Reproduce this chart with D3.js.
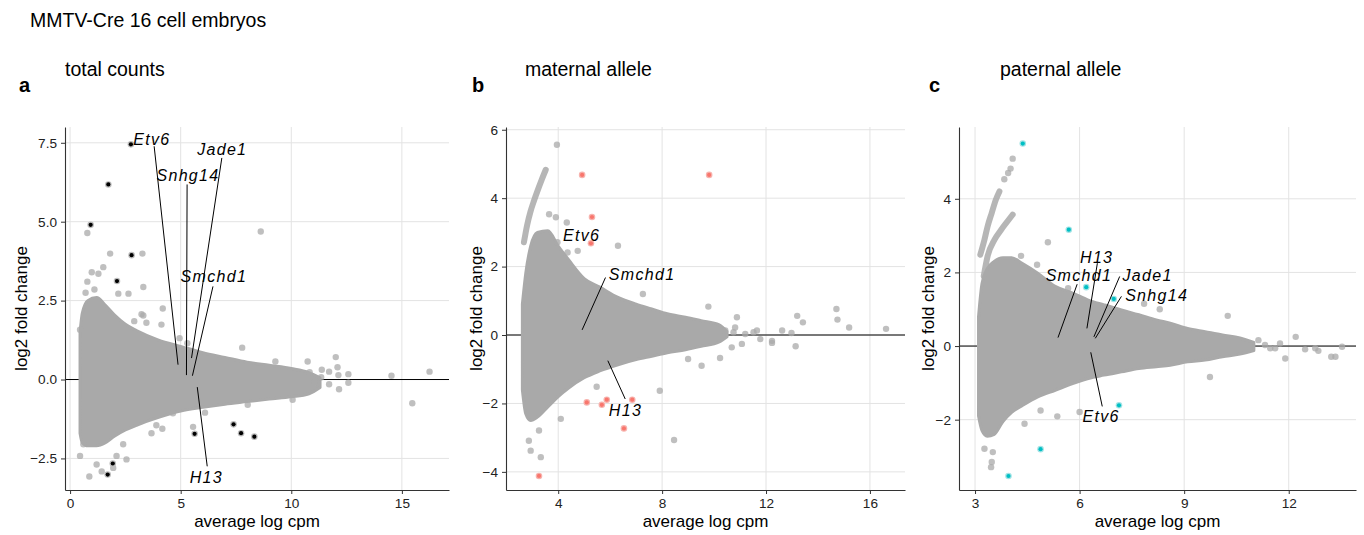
<!DOCTYPE html>
<html><head><meta charset="utf-8">
<script src="https://cdn.jsdelivr.net/npm/d3@7"></script>
<style>
body{margin:0;background:#fff;}
text{font-family:"Liberation Sans",Arial,Helvetica,sans-serif;}
</style></head><body>
<svg id="chart" width="1364" height="535"></svg>
<script>
// ---------------- DATA ----------------
const mainTitle = "MMTV-Cre 16 cell embryos";
const panelTitles = ["total counts", "maternal allele", "paternal allele"];
const panelLetters = ["a", "b", "c"];
const xAxisTitle = "average log cpm";
const yAxisTitle = "log2 fold change";

// tick values
const aXTicks = [0, 5, 10, 15];
const aYTicks = [-2.5, 0, 2.5, 5, 7.5];
const bXTicks = [4, 8, 12, 16];
const bYTicks = [-4, -2, 0, 2, 4, 6];
const cXTicks = [3, 6, 9, 12];
const cYTicks = [-2, 0, 2, 4];

// dense cloud outline: x, upper y, lower y
const aCloudX  = [0.45, 0.55, 0.8, 1.2, 1.6, 2.0, 2.5, 3.0, 4.0, 5.0, 6.0, 7.0, 8.0, 9.0, 10.0, 10.8, 11.3];
const aCloudUp = [1.5, 2.1, 2.5, 2.6, 2.35, 2.05, 1.75, 1.55, 1.25, 1.05, 0.85, 0.7, 0.55, 0.45, 0.35, 0.22, 0.05];
const aCloudLo = [-1.7, -2.0, -2.1, -2.1, -2.0, -1.8, -1.6, -1.45, -1.2, -1.0, -0.88, -0.78, -0.7, -0.62, -0.55, -0.45, -0.25];

const bCloudX  = [2.62, 2.75, 2.94, 3.2, 3.6, 4.0, 4.4, 5.0, 5.6, 6.3, 7.0, 7.6, 8.2, 8.9, 9.5, 10.2, 10.5];
const bCloudUp = [0.9, 1.8, 2.6, 3.0, 3.05, 2.6, 2.2, 1.65, 1.4, 1.1, 0.9, 0.76, 0.62, 0.52, 0.42, 0.3, 0.1];
const bCloudLo = [-1.6, -2.3, -2.5, -2.4, -2.1, -1.8, -1.55, -1.25, -1.05, -0.87, -0.72, -0.62, -0.52, -0.43, -0.33, -0.2, -0.05];

const cCloudX  = [3.1, 3.2, 3.35, 3.55, 3.8, 4.05, 4.35, 4.8, 5.3, 5.8, 6.25, 6.7, 7.2, 7.7, 8.2, 8.6, 9.1, 9.6, 10.1, 10.6, 11.0];
const cCloudUp = [0.8, 1.7, 2.1, 2.3, 2.4, 2.4, 2.25, 1.98, 1.62, 1.44, 1.25, 1.12, 0.98, 0.85, 0.71, 0.62, 0.48, 0.39, 0.3, 0.22, 0.1];
const cCloudLo = [-1.9, -2.3, -2.45, -2.4, -2.05, -1.8, -1.62, -1.38, -1.2, -1.02, -0.88, -0.79, -0.7, -0.61, -0.56, -0.52, -0.43, -0.38, -0.29, -0.22, -0.12];

// streaks of genes (allele-specific panels)
const bStreakX = [2.68, 2.8, 2.93, 3.07, 3.22, 3.37, 3.52];
const bStreakY = [2.71, 3.2, 3.6, 3.93, 4.25, 4.55, 4.83];
const cStreak1X = [3.15, 3.27, 3.36, 3.48, 3.6, 3.7];
const cStreak1Y = [2.48, 2.89, 3.25, 3.62, 3.98, 4.2];
const cStreak2X = [3.25, 3.36, 3.56, 3.75, 3.9, 4.08];
const cStreak2Y = [1.9, 2.44, 2.89, 3.16, 3.35, 3.57];

// scattered genes outside the dense cloud
const aPtsX = [8.62, 0.78, 1.81, 3.27, 1.5, 0.98, 1.28, 3.31, 0.78, 2.18, 2.64, 3.23, 4.19, 4.13, 3.45, 4.95, 7.78, 9.28, 10.74, 11.38, 11.71, 12.01, 12.09, 12.13, 12.58, 12.58, 11.71, 12.16, 14.53, 16.25, 15.47, 10.06, 8.03, 5.56, 4.65, 4.17, 3.68, 2.40, 2.55, 2.10, 0.60, 0.45, 0.87, 1.20, 1.43, 1.95, 0.45, 3.31, 10.83, 11.05, 11.35, 0.7, 1.1, 2.9, 3.9, 5.3, 6.1];
const aPtsY = [4.69, 4.64, 3.99, 3.99, 3.56, 3.40, 3.35, 2.93, 3.10, 2.72, 2.72, 2.07, 2.25, 1.74, 1.80, 1.31, 1.01, 0.57, 0.57, 0.31, 0.25, 0.71, 0.39, 0.14, 0.17, -0.10, -0.15, -0.31, 0.12, 0.25, -0.75, -0.64, -0.80, -1.50, -1.07, -1.56, -1.70, -2.05, -2.53, -2.42, -2.05, -2.42, -3.07, -2.69, -2.91, -2.80, 1.58, 2.03, 0.23, -0.10, 0.07, 2.75, 2.85, 1.85, -1.45, 1.15, -1.05];

const bPtsX = [3.95, 6.30, 9.78, 10.88, 13.2, 13.42, 14.71, 14.75, 15.2, 16.62, 12.62, 12.98, 13.14, 12.23, 10.23, 9.52, 9.0, 7.91, 8.46, 3.33, 2.94, 2.87, 3.26, 4.10, 5.48, 4.75, 4.36, 3.97, 3.65, 3.91, 4.33, 7.26, 10.43, 10.75, 11.2, 11.52, 11.78, 12.23, 10.68, 11.07, 10.81, 11.65];
const bPtsY = [5.56, 2.61, 0.83, 0.52, 0.56, 0.37, 0.76, 0.45, 0.22, 0.18, 0.13, 0.06, -0.33, -0.23, -0.67, -0.9, -0.70, -1.63, -3.07, -3.57, -3.38, -3.09, -2.79, -2.45, -1.51, 2.46, 2.41, 2.71, 3.53, 3.44, 3.29, 1.20, 0.13, 0.08, 0.03, 0.08, -0.12, -0.17, -0.36, -0.26, 0.22, 0.13];

const cPtsX = [10.25, 12.2, 13.53, 13.22, 12.85, 11.9, 11.47, 9.74, 5.09, 4.32, 4.78, 7.85, 8.3, 5.36, 6.0, 4.88, 4.42, 3.46, 3.48, 3.27, 3.51, 5.67, 3.84, 3.95, 4.02, 4.08, 11.13, 11.32, 11.61, 11.75, 12.47, 12.76, 13.34];
const cPtsY = [0.82, 0.25, -0.02, -0.29, -0.13, -0.34, -0.06, -0.84, 2.82, 2.45, 2.21, 1.15, 1.0, -1.91, -1.79, -1.75, -2.11, -3.29, -3.15, -2.79, -2.88, 1.57, 4.53, 4.7, 4.82, 5.09, 0.16, 0.03, -0.06, 0.07, -0.09, -0.06, -0.29];

// highlighted (significant) genes
const aHiX = [2.75, 1.73, 0.93, 2.78, 2.12, 5.63, 7.39, 7.73, 8.33, 1.93, 1.70];
const aHiY = [7.45, 6.18, 4.90, 3.94, 3.12, -1.72, -1.42, -1.70, -1.81, -2.66, -3.01];
const bHiX = [4.92, 9.81, 5.30, 5.26, 5.10, 5.68, 5.87, 6.85, 6.53, 3.26];
const bHiY = [4.68, 4.68, 3.45, 2.68, -1.97, -2.04, -1.89, -1.89, -2.73, -4.12];
const cHiX = [4.37, 5.69, 6.19, 6.98, 7.13, 4.88, 3.96];
const cHiY = [5.5, 3.16, 1.60, 1.28, -1.61, -2.80, -3.53];

// gene labels: text position, and leader segment (label end -> gene point)
const aLabGene = ["Etv6", "Jade1", "Snhg14", "Smchd1", "H13"];
const aLabX = [3.70, 6.88, 5.33, 6.50, 6.16];
const aLabY = [7.60, 7.29, 6.47, 3.26, -3.11];
const aSegX1 = [3.80, 6.86, 5.29, 6.46, 6.20];
const aSegY1 = [7.39, 7.02, 6.18, 2.95, -2.75];
const aSegX2 = [4.88, 5.49, 5.26, 5.53, 5.75];
const aSegY2 = [0.47, 0.68, 0.14, 0.12, -0.24];

const bLabGene = ["Etv6", "Smchd1", "H13"];
const bLabX = [4.90, 7.23, 6.59];
const bLabY = [2.90, 1.76, -2.19];
const bSegGene = ["Smchd1", "H13"];
const bSegX1 = [5.82, 6.58];
const bSegY1 = [1.68, -1.87];
const bSegX2 = [4.92, 5.91];
const bSegY2 = [0.15, -0.75];

const cLabGene = ["H13", "Smchd1", "Jade1", "Snhg14", "Etv6"];
const cLabX = [6.49, 5.98, 7.95, 8.21, 6.62];
const cLabY = [2.41, 1.92, 1.92, 1.37, -1.91];
const cSegX1 = [6.51, 5.93, 7.15, 7.20, 6.65];
const cSegY1 = [2.25, 1.68, 1.89, 1.35, -1.64];
const cSegX2 = [6.21, 5.38, 6.41, 6.45, 6.32];
const cSegY2 = [0.48, 0.23, 0.25, 0.21, -0.17];

// ---------------- DRAW ----------------
const svg = d3.select("#chart");
const zip = (xs, ys) => xs.map((x, i) => ({x, y: ys[i]}));

svg.append("text").attr("x", 30).attr("y", 27).attr("font-size", 19.5).attr("fill", "#000").text(mainTitle);

const panels = [
  {box: {l: 65, r: 449, t: 127, b: 490}, xd: [-0.23, 17.13], yd: [-3.5, 8.0],
   xt: aXTicks, yt: aYTicks, yf: d3.format(".1f"), titleX: 65, letterX: 19, yTitleX: 27,
   cloud: {x: aCloudX, up: aCloudUp, lo: aCloudLo}, streaks: [],
   pts: zip(aPtsX, aPtsY), hi: zip(aHiX, aHiY), hiCol: "#000000", hiHalo: "#bdbdbd",
   labs: aLabGene.map((g, i) => ({g, x: aLabX[i], y: aLabY[i]})),
   segs: aLabGene.map((g, i) => ({x1: aSegX1[i], y1: aSegY1[i], x2: aSegX2[i], y2: aSegY2[i]}))},
  {box: {l: 506, r: 905, t: 127, b: 490}, xd: [1.99, 17.35], yd: [-4.53, 6.08],
   xt: bXTicks, yt: bYTicks, yf: d3.format("d"), titleX: 525, letterX: 472, yTitleX: 482,
   cloud: {x: bCloudX, up: bCloudUp, lo: bCloudLo}, streaks: [zip(bStreakX, bStreakY)],
   pts: zip(bPtsX, bPtsY), hi: zip(bHiX, bHiY), hiCol: "#F8766D", hiHalo: "#f7b3ae",
   labs: bLabGene.map((g, i) => ({g, x: bLabX[i], y: bLabY[i]})),
   segs: bSegGene.map((g, i) => ({x1: bSegX1[i], y1: bSegY1[i], x2: bSegX2[i], y2: bSegY2[i]}))},
  {box: {l: 959, r: 1356, t: 127, b: 490}, xd: [2.54, 13.93], yd: [-3.91, 5.95],
   xt: cXTicks, yt: cYTicks, yf: d3.format("d"), titleX: 1000, letterX: 929, yTitleX: 934,
   cloud: {x: cCloudX, up: cCloudUp, lo: cCloudLo}, streaks: [zip(cStreak1X, cStreak1Y), zip(cStreak2X, cStreak2Y)],
   pts: zip(cPtsX, cPtsY), hi: zip(cHiX, cHiY), hiCol: "#00BFC4", hiHalo: "#a3e3e5",
   labs: cLabGene.map((g, i) => ({g, x: cLabX[i], y: cLabY[i]})),
   segs: cLabGene.map((g, i) => ({x1: cSegX1[i], y1: cSegY1[i], x2: cSegX2[i], y2: cSegY2[i]}))}
];

const gray = "#a9a9a9";

panels.forEach((p, pi) => {
  const {l, r, t, b} = p.box;
  const x = d3.scaleLinear().domain(p.xd).range([l, r]);
  const y = d3.scaleLinear().domain(p.yd).range([b, t]);
  const g = svg.append("g");

  // titles
  svg.append("text").attr("x", p.titleX).attr("y", 76).attr("font-size", 19.5).text(panelTitles[pi]);
  svg.append("text").attr("x", p.letterX).attr("y", 92).attr("font-size", 20).attr("font-weight", "bold").text(panelLetters[pi]);
  svg.append("text").attr("transform", `translate(${p.yTitleX},${(t + b) / 2}) rotate(-90)`)
    .attr("text-anchor", "middle").attr("font-size", 17).text(yAxisTitle);
  svg.append("text").attr("x", (l + r) / 2).attr("y", 527).attr("text-anchor", "middle")
    .attr("font-size", 17).text(xAxisTitle);

  // grid
  g.selectAll(".gx").data(p.xt).join("line")
    .attr("x1", d => x(d)).attr("x2", d => x(d)).attr("y1", t).attr("y2", b)
    .attr("stroke", "#e3e3e3").attr("stroke-width", 1);
  g.selectAll(".gy").data(p.yt).join("line").attr("class", "gy")
    .attr("x1", l).attr("x2", r).attr("y1", d => y(d)).attr("y2", d => y(d))
    .attr("stroke", "#e3e3e3").attr("stroke-width", 1);

  // zero line
  g.append("line").attr("x1", l).attr("x2", r).attr("y1", y(0)).attr("y2", y(0))
    .attr("stroke", "#000").attr("stroke-width", 1);

  // dense cloud
  const cd = p.cloud.x.map((v, i) => ({x: v, up: p.cloud.up[i], lo: p.cloud.lo[i]}));
  const area = d3.area().x(d => x(d.x)).y0(d => y(d.lo)).y1(d => y(d.up)).curve(d3.curveMonotoneX);
  g.append("path").datum(cd).attr("d", area).attr("fill", gray)
    .attr("stroke", gray).attr("stroke-width", 3).attr("stroke-linejoin", "round");

  // streaks
  const line = d3.line().x(d => x(d.x)).y(d => y(d.y)).curve(d3.curveMonotoneX);
  p.streaks.forEach(s => {
    g.append("path").datum(s).attr("d", line).attr("fill", "none").attr("stroke", gray)
      .attr("stroke-width", 6).attr("stroke-linecap", "round").attr("stroke-opacity", 0.85);
  });

  // scattered points
  g.selectAll(".pt").data(p.pts).join("circle")
    .attr("cx", d => x(d.x)).attr("cy", d => y(d.y)).attr("r", 3.2)
    .attr("fill", gray).attr("fill-opacity", 0.75);

  // highlighted
  g.selectAll(".hh").data(p.hi).join("circle")
    .attr("cx", d => x(d.x)).attr("cy", d => y(d.y)).attr("r", 3.3).attr("fill", p.hiHalo);
  g.selectAll(".hc").data(p.hi).join("circle")
    .attr("cx", d => x(d.x)).attr("cy", d => y(d.y)).attr("r", 2.1).attr("fill", p.hiCol);

  // leader segments
  g.selectAll(".sg").data(p.segs).join("line")
    .attr("x1", d => x(d.x1)).attr("y1", d => y(d.y1)).attr("x2", d => x(d.x2)).attr("y2", d => y(d.y2))
    .attr("stroke", "#000").attr("stroke-width", 1);

  // labels
  g.selectAll(".lb").data(p.labs).join("text")
    .attr("x", d => x(d.x)).attr("y", d => y(d.y)).attr("dy", "0.35em")
    .attr("text-anchor", "middle").attr("font-size", 16).attr("font-style", "italic")
    .attr("letter-spacing", 1.3).text(d => d.g);

  // axes
  const xa = svg.append("g").attr("transform", `translate(0,${b})`)
    .call(d3.axisBottom(x).tickValues(p.xt).tickFormat(d3.format("d")).tickSize(4).tickPadding(4).tickSizeOuter(0));
  const ya = svg.append("g").attr("transform", `translate(${l},0)`)
    .call(d3.axisLeft(y).tickValues(p.yt).tickFormat(p.yf).tickSize(4).tickPadding(4).tickSizeOuter(0));
  [xa, ya].forEach(a => {
    a.select(".domain").attr("stroke", "#333").attr("stroke-width", 1.1);
    a.selectAll(".tick line").attr("stroke", "#333");
    a.selectAll(".tick text").attr("font-size", 13.6).attr("fill", "#222")
      .attr("font-family", '"Liberation Sans",Arial,Helvetica,sans-serif');
  });
});
</script>
</body></html>
